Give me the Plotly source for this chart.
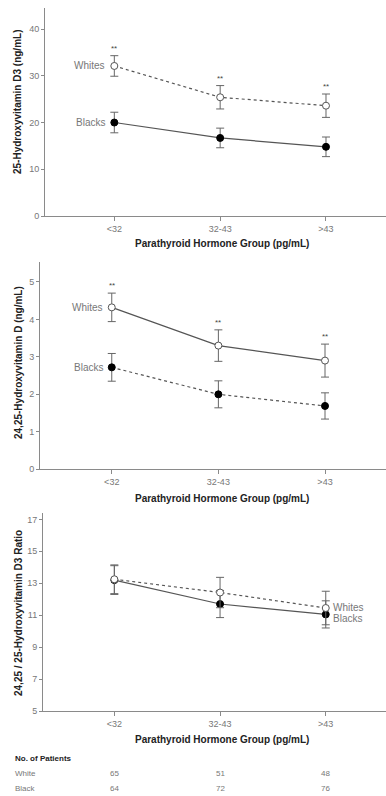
import plotly.graph_objects as go

W, H = 386, 796

categories = ["<32", "32-43", ">43"]

# Panel 1: 25-Hydroxyvitamin D3 (ng/mL)
p1_whites = [32.1, 25.4, 23.6]
p1_whites_err = [2.2, 2.5, 2.5]
p1_blacks = [20.0, 16.7, 14.8]
p1_blacks_err = [2.2, 2.1, 2.1]

# Panel 2: 24,25-Hydroxyvitamin D (ng/mL)
p2_whites = [4.32, 3.30, 2.90]
p2_whites_err = [0.38, 0.42, 0.44]
p2_blacks = [2.72, 2.00, 1.69]
p2_blacks_err = [0.37, 0.36, 0.35]

# Panel 3: 24,25 / 25-Hydroxyvitamin D3 Ratio
p3_whites = [13.25, 12.42, 11.45]
p3_whites_err = [0.9, 0.95, 1.05]
p3_blacks = [13.2, 11.7, 11.05]
p3_blacks_err = [0.9, 0.85, 0.85]

n_white = [65, 51, 48]
n_black = [64, 72, 76]

y_titles = ["25-Hydroxyvitamin D3 (ng/mL)", "24,25-Hydroxyvitamin D (ng/mL)",
            "24,25 / 25-Hydroxyvitamin D3 Ratio"]
x_title = "Parathyroid Hormone Group (pg/mL)"

LINE = "#555555"
ERR = "#666666"
AX = "#8a8a8a"
TXT = "#777777"
FONT = "Liberation Sans, Arial, sans-serif"


def py(p):
    return 1 - p / H


def px(p):
    return p / W

# panel pixel geometry: (axis_left, top, bottom, x_range, y_range, dtick, yrange)
panels = [
    dict(left=45, top=8, bottom=216, xr=[-0.655, 2.567], yr=[0, 44.5], dtick=10, tick0=0),
    dict(left=40, top=262, bottom=469.3, xr=[-0.673, 2.572], yr=[0, 5.53], dtick=1, tick0=0),
    dict(left=43, top=513, bottom=711, xr=[-0.675, 2.57], yr=[5, 17.4], dtick=2, tick0=5),
]

fig = go.Figure()

data = [
    (p1_whites, p1_whites_err, p1_blacks, p1_blacks_err, "dot", "solid"),
    (p2_whites, p2_whites_err, p2_blacks, p2_blacks_err, "solid", "dot"),
    (p3_whites, p3_whites_err, p3_blacks, p3_blacks_err, "dot", "solid"),
]

for i, (wv, we, bv, be, wdash, bdash) in enumerate(data):
    xa = "x" if i == 0 else f"x{i+1}"
    ya = "y" if i == 0 else f"y{i+1}"
    fig.add_trace(go.Scatter(
        x=categories, y=bv, xaxis=xa, yaxis=ya, mode="lines+markers",
        line=dict(color=LINE, width=1.2, dash=bdash),
        marker=dict(size=7, color="black", line=dict(color="black", width=1)),
        error_y=dict(type="data", array=be, color=ERR, thickness=1, width=4),
        showlegend=False, cliponaxis=False))
    fig.add_trace(go.Scatter(
        x=categories, y=wv, xaxis=xa, yaxis=ya, mode="lines+markers",
        line=dict(color=LINE, width=1.2, dash=wdash),
        marker=dict(size=7, color="white", line=dict(color=LINE, width=1)),
        error_y=dict(type="data", array=we, color=ERR, thickness=1, width=4),
        showlegend=False, cliponaxis=False))

layout = dict(
    width=W, height=H, margin=dict(l=0, r=0, t=0, b=0),
    plot_bgcolor="white", paper_bgcolor="white",
    font=dict(family=FONT, color=TXT),
)

for i, p in enumerate(panels):
    xk = "xaxis" if i == 0 else f"xaxis{i+1}"
    yk = "yaxis" if i == 0 else f"yaxis{i+1}"
    ya = "y" if i == 0 else f"y{i+1}"
    xa = "x" if i == 0 else f"x{i+1}"
    layout[xk] = dict(
        domain=[px(p["left"]), 1], anchor=ya, type="category",
        categoryorder="array", categoryarray=categories, range=p["xr"],
        showline=True, linecolor=AX, linewidth=1, showgrid=False, zeroline=False,
        ticks="outside", ticklen=4, tickcolor=AX, tickwidth=1,
        tickfont=dict(size=9, color=TXT, family=FONT), automargin=False)
    layout[yk] = dict(
        domain=[py(p["bottom"]), py(p["top"])], anchor=xa, range=p["yr"],
        tick0=p["tick0"], dtick=p["dtick"],
        showline=True, linecolor=AX, linewidth=1, showgrid=False, zeroline=False,
        ticks="outside", ticklen=3, tickcolor=AX, tickwidth=1,
        tickfont=dict(size=9, color=TXT, family=FONT), automargin=False)

fig.update_layout(**layout)

ann = []
# y titles
ytitle_centers = [102, 363, 613]
for t, yc in zip(y_titles, ytitle_centers):
    ann.append(dict(text=f"<b>{t}</b>", x=px(18), y=py(yc), xref="paper", yref="paper",
                    textangle=-90, showarrow=False, xanchor="center", yanchor="middle",
                    font=dict(size=10, color="#222222", family=FONT)))
# x titles
xtitle_y = [243, 498, 739]
for yc in xtitle_y:
    ann.append(dict(text=f"<b>{x_title}</b>", x=px(222), y=py(yc), xref="paper", yref="paper",
                    showarrow=False, xanchor="center", yanchor="middle",
                    font=dict(size=10, color="#222222", family=FONT)))

# significance stars above whites' error bars (panels 1 and 2)
for i, (wv, we) in enumerate([(p1_whites, p1_whites_err), (p2_whites, p2_whites_err)]):
    xa = "x" if i == 0 else f"x{i+1}"
    ya = "y" if i == 0 else f"y{i+1}"
    for c, v, e in zip(categories, wv, we):
        ann.append(dict(text="**", x=c, y=v + e, xref=xa, yref=ya, showarrow=False,
                        yanchor="bottom", yshift=1, font=dict(size=8, color="#444444", family=FONT)))

# group labels
lab_font = dict(size=10, color=TXT, family=FONT)
ann.append(dict(text="Whites", x=categories[0], y=p1_whites[0], xref="x", yref="y",
                showarrow=False, xanchor="right", xshift=-7, font=lab_font))
ann.append(dict(text="Blacks", x=categories[0], y=p1_blacks[0], xref="x", yref="y",
                showarrow=False, xanchor="right", xshift=-7, font=lab_font))
ann.append(dict(text="Whites", x=categories[0], y=p2_whites[0], xref="x2", yref="y2",
                showarrow=False, xanchor="right", xshift=-7, font=lab_font))
ann.append(dict(text="Blacks", x=categories[0], y=p2_blacks[0], xref="x2", yref="y2",
                showarrow=False, xanchor="right", xshift=-7, font=lab_font))
ann.append(dict(text="Whites", x=categories[2], y=p3_whites[2], xref="x3", yref="y3",
                showarrow=False, xanchor="left", xshift=5, yshift=1, font=lab_font))
ann.append(dict(text="Blacks", x=categories[2], y=p3_blacks[2], xref="x3", yref="y3",
                showarrow=False, xanchor="left", xshift=5, yshift=-4, font=lab_font))

# patient count table
ann.append(dict(text="<b>No. of Patients</b>", x=px(13), y=py(758), xref="paper", yref="paper",
                showarrow=False, xanchor="left", yanchor="middle",
                font=dict(size=8, color="#222222", family=FONT)))
for label, counts, yc in [("White", n_white, 773), ("Black", n_black, 788)]:
    ann.append(dict(text=label, x=px(13), y=py(yc), xref="paper", yref="paper",
                    showarrow=False, xanchor="left", yanchor="middle",
                    font=dict(size=8, color=TXT, family=FONT)))
    for c, n in zip(categories, counts):
        ann.append(dict(text=str(n), x=c, y=py(yc), xref="x3", yref="paper",
                        showarrow=False, xanchor="center", yanchor="middle",
                        font=dict(size=8, color=TXT, family=FONT)))

fig.update_layout(annotations=ann)
fig.write_html("out.html")
